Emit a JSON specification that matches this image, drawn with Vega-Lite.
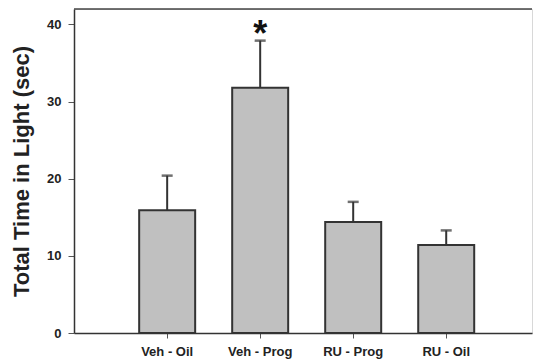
{
  "$schema": "https://vega.github.io/schema/vega-lite/v6.json",
  "width": 458,
  "height": 324,
  "autosize": "none",
  "padding": {"left": 74, "top": 9, "right": 1, "bottom": 31},
  "background": "white",
  "config": {
    "view": {"stroke": "#d8d8d8", "strokeWidth": 1},
    "font": "Liberation Sans"
  },
  "data": {
    "values": [
      {"group": "Veh - Oil", "mean": 15.9, "upper": 20.4, "sig": ""},
      {"group": "Veh - Prog", "mean": 31.8, "upper": 37.9, "sig": "*"},
      {"group": "RU - Prog", "mean": 14.4, "upper": 17.0, "sig": ""},
      {"group": "RU - Oil", "mean": 11.4, "upper": 13.3, "sig": ""}
    ]
  },
  "layer": [
    {
      "mark": {"type": "bar", "fill": "#c0c0c0", "stroke": "#333", "strokeWidth": 2},
      "encoding": {
        "x": {
          "field": "group",
          "type": "nominal",
          "sort": null,
          "scale": {"paddingInner": 0.398, "paddingOuter": 0.661, "align": 0.53},
          "axis": {
            "title": null,
            "labelAngle": 0,
            "labelFont": "Liberation Sans",
            "labelFontWeight": "bold",
            "labelFontSize": 13,
            "labelColor": "#222",
            "labelPadding": 7,
            "tickSize": 5,
            "tickColor": "#555",
            "domainColor": "#333",
            "domainWidth": 1.5
          }
        },
        "y": {
          "field": "mean",
          "type": "quantitative",
          "scale": {"domain": [0, 42], "nice": false},
          "axis": {
            "title": "Total Time in Light (sec)",
            "titleFont": "Liberation Sans",
            "titleFontSize": 22,
            "titleFontWeight": "bold",
            "titleColor": "#222",
            "titlePadding": 13,
            "values": [0, 10, 20, 30, 40],
            "labelFont": "Liberation Sans",
            "labelFontWeight": "bold",
            "labelFontSize": 13,
            "labelColor": "#222",
            "labelPadding": 7,
            "tickSize": 6,
            "tickColor": "#555",
            "domainColor": "#333",
            "domainWidth": 1.5,
            "grid": false
          }
        }
      }
    },
    {
      "mark": {"type": "rule", "stroke": "#333", "strokeWidth": 2},
      "encoding": {
        "x": {"field": "group", "type": "nominal", "sort": null},
        "y": {"field": "mean", "type": "quantitative"},
        "y2": {"field": "upper"}
      }
    },
    {
      "mark": {"type": "tick", "color": "#333", "thickness": 2.5, "size": 11},
      "encoding": {
        "x": {"field": "group", "type": "nominal", "sort": null},
        "y": {"field": "upper", "type": "quantitative"}
      }
    },
    {
      "mark": {"type": "text", "font": "Liberation Sans", "fontWeight": "bold", "fontSize": 36, "baseline": "alphabetic", "dy": 5, "color": "#111"},
      "encoding": {
        "x": {"field": "group", "type": "nominal", "sort": null},
        "y": {"field": "upper", "type": "quantitative"},
        "text": {"field": "sig"}
      }
    },
    {
      "data": {"values": [{"top": 42}]},
      "mark": {"type": "rule", "stroke": "#444", "strokeWidth": 1.5},
      "encoding": {
        "y": {"field": "top", "type": "quantitative"}
      }
    }
  ]
}
